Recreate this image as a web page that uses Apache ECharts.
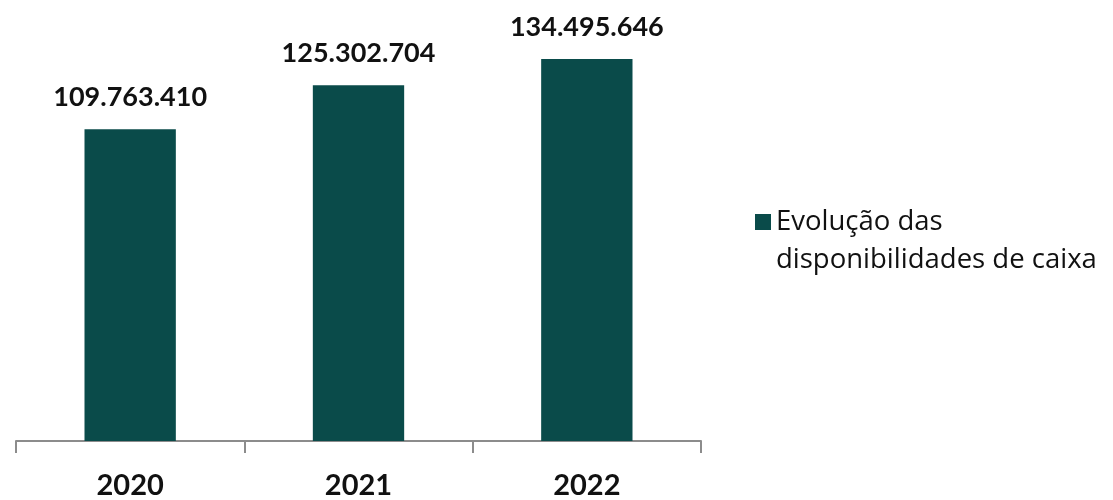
<!DOCTYPE html>
<html>
<head>
<meta charset="utf-8">
<script src="https://cdn.jsdelivr.net/npm/echarts@6/dist/echarts.min.js"></script>
<style>
  html, body { margin: 0; padding: 0; background: #fff; }
  #chart { width: 1113px; height: 500px; }
</style>
</head>
<body>
<div id="chart"></div>
<script>
const years = ['2020', '2021', '2022'];
const disponibilidades = [109763410, 125302704, 134495646];
const seriesName = 'Evolução das\ndisponibilidades de caixa';

const fmt = v => String(v).replace(/\B(?=(\d{3})+(?!\d))/g, '.');

const chart = echarts.init(document.getElementById('chart'));
chart.setOption({
  animation: false,
  textStyle: { fontFamily: 'Lato' },
  legend: {
    orient: 'vertical',
    left: 750,
    top: 198,
    // square sits on the first line of the two-line label
    icon: 'path://M0,0L16,0L16,16L0,16Z M0,54L0.01,54L0,54Z',
    itemWidth: 16,
    itemHeight: 54,
    itemGap: 10,
    textStyle: { fontSize: 27.5, color: '#111', lineHeight: 38, fontFamily: 'Open Sans' },
    data: [seriesName]
  },
  grid: { left: 16, right: 412, top: 15, bottom: 56 },
  xAxis: {
    type: 'category',
    data: years,
    axisLine: { lineStyle: { color: '#8c8c8c', width: 2 } },
    axisTick: { show: true, length: 12, lineStyle: { color: '#8c8c8c', width: 2 } },
    axisLabel: { color: '#111', fontSize: 29, fontWeight: 'bold', margin: 30 }
  },
  yAxis: {
    type: 'value',
    min: 0,
    max: 150000000,
    show: false,
    splitLine: { show: false }
  },
  series: [{
    name: seriesName,
    type: 'bar',
    barWidth: '40%',
    itemStyle: { color: '#0a4b4a' },
    label: {
      show: true,
      position: 'top',
      distance: 18,
      color: '#111',
      fontSize: 27,
      fontWeight: 'bold',
      formatter: p => fmt(p.value)
    },
    data: disponibilidades
  }]
});
</script>
</body>
</html>
